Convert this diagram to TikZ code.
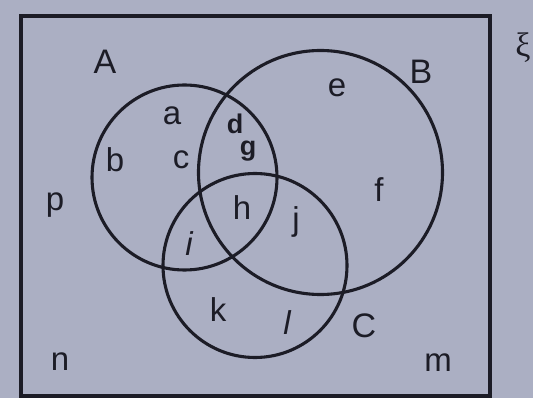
\documentclass[tikz,border=0pt]{standalone}
\usepackage{fontspec}
\setmainfont{Liberation Sans}
\newfontfamily\xifont{Liberation Serif}
\usepackage{tikz}
\definecolor{vennpaper}{HTML}{ABAFC3}
\definecolor{vennink}{HTML}{1C1C26}

\begin{document}
\begin{tikzpicture}[
    x=1pt, y=-1pt,
    setline/.style={draw=vennink, line width=3.1pt},
    setcircle/.style={circle, setline, inner sep=0pt, outer sep=0pt},
    lbl/.style={text=vennink, font=\fontsize{33}{36}\selectfont, inner sep=0pt},
    setname/.style={lbl, font=\fontsize{34}{36}\selectfont}
]
    % Paper and universal set
    \useasboundingbox (0,0) rectangle (533,398);
    \fill[vennpaper] (0,0) rectangle (533,398);
    \draw[setline] (21,16) rectangle (490,396);

    % Sets
    \node (setA) [setcircle, minimum size=185pt] at (184.5,177.5) {};
    \node (setB) [setcircle, minimum size=244pt] at (320.5,172.5) {};
    \node (setC) [setcircle, minimum size=184pt] at (255,265.5) {};

    % Set names
    \node (nameA) [setname] at (105,62) {A};
    \node (nameB) [setname] at (421,72) {B};
    \node (nameC) [setname] at (364,326) {C};
    \node (xi) [lbl, font=\fontsize{34}{36}\selectfont\xifont] at (523,48) {ξ};

    % Elements
    \node (ea) [lbl] at (172,116) {a};
    \node (eb) [lbl] at (115,160) {b};
    \node (ec) [lbl] at (181,160) {c};
    \node (ed) [lbl, font=\fontsize{27}{30}\selectfont\bfseries] at (235,124) {d};
    \node (eg) [lbl, font=\fontsize{27}{30}\selectfont\bfseries] at (248,151) {g};
    \node (ee) [lbl] at (337,88) {e};
    \node (ef) [lbl] at (379,190) {f};
    \node (eh) [lbl] at (242,208) {h};
    \node (ej) [lbl] at (296,222) {j};
    \node (ei) [lbl, font=\fontsize{33}{36}\selectfont\itshape] at (189,244) {i};
    \node (ek) [lbl] at (218,310) {k};
    \node (el) [lbl, font=\fontsize{33}{36}\selectfont\itshape] at (287,323) {l};
    \node (ep) [lbl] at (55,205) {p};
    \node (en) [lbl] at (60,362) {n};
    \node (em) [lbl] at (438,363) {m};
\end{tikzpicture}
\end{document}
